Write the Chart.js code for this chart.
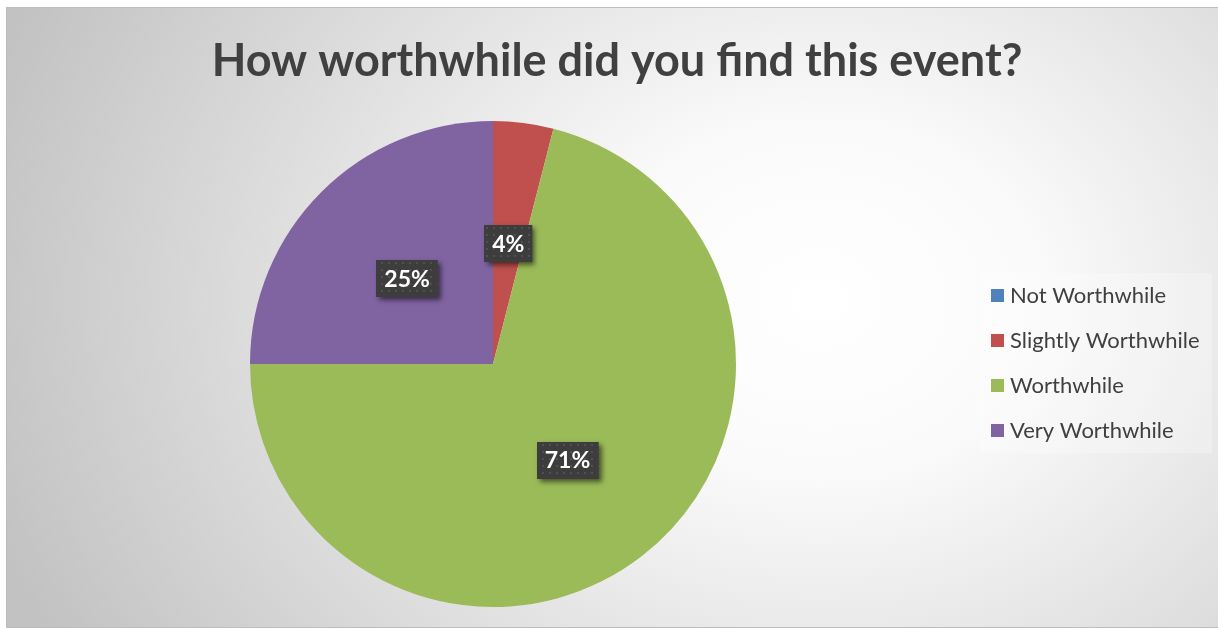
<!DOCTYPE html>
<html>
<head>
<meta charset="utf-8">
<script src="https://cdn.jsdelivr.net/npm/chart.js@4/dist/chart.umd.min.js"></script>
<style>
  html, body { margin: 0; padding: 0; background: #fff; }
  canvas { display: block; }
</style>
</head>
<body>
<canvas id="canvas" width="1218" height="629"></canvas>
<script>
const chartTitle = 'How worthwhile did you find this event?';
const answers = ['Not Worthwhile', 'Slightly Worthwhile', 'Worthwhile', 'Very Worthwhile'];
const percents = [0, 4, 71, 25];
const sliceColors = ['#4f81bd', '#c0504d', '#9bbb59', '#8064a2'];

const textColor = '#404040';

// grey frame with a soft radial fill, plus the title on top
const backdrop = {
  id: 'backdrop',
  beforeDraw(chart) {
    const ctx = chart.ctx;
    const x0 = 7, y0 = 8, x1 = 1218, y1 = 627;
    ctx.save();
    ctx.fillStyle = '#ffffff';
    ctx.fillRect(0, 0, chart.width, chart.height);
    ctx.beginPath();
    ctx.rect(x0, y0, x1 - x0, y1 - y0);
    ctx.clip();
    // stretch the gradient a bit wider than tall
    ctx.translate(820, 300);
    ctx.scale(1.25, 1);
    const g = ctx.createRadialGradient(0, 0, 0, 0, 0, 700);
    g.addColorStop(0, '#ffffff');
    g.addColorStop(0.25, '#fafafa');
    g.addColorStop(1, '#c2c2c2');
    ctx.fillStyle = g;
    ctx.fillRect(-1000, -500, 2000, 1000);
    ctx.restore();

    ctx.save();
    ctx.strokeStyle = '#bdbdbd';
    ctx.lineWidth = 1;
    ctx.strokeRect(x0 - 0.5, y0 - 0.5, x1 - x0 + 1, y1 - y0 + 1);
    ctx.fillStyle = textColor;
    ctx.font = 'bold 45px Lato';
    ctx.textAlign = 'center';
    ctx.textBaseline = 'middle';
    ctx.fillText(chartTitle, 617, 61);
    ctx.restore();
  }
};

function dotPattern(ctx) {
  const p = document.createElement('canvas');
  p.width = 7; p.height = 7;
  const pc = p.getContext('2d');
  pc.fillStyle = '#3d3d3d';
  pc.fillRect(0, 0, 7, 7);
  pc.fillStyle = '#505050';
  pc.fillRect(3, 3, 2, 2);
  return ctx.createPattern(p, 'repeat');
}

// percentage boxes in the middle of each slice, and the legend panel
const overlays = {
  id: 'overlays',
  afterDraw(chart) {
    const ctx = chart.ctx;
    const meta = chart.getDatasetMeta(0);
    const pattern = dotPattern(ctx);
    ctx.save();
    ctx.font = 'bold 23px Lato';
    ctx.textAlign = 'center';
    ctx.textBaseline = 'middle';
    meta.data.forEach((arc, i) => {
      const v = percents[i];
      if (!v) return;
      const pos = arc.tooltipPosition();
      const txt = v + '%';
      const w = ctx.measureText(txt).width + 16;
      const h = 37;
      const bx = Math.round(pos.x - w / 2), by = Math.round(pos.y - h / 2);
      ctx.save();
      ctx.shadowColor = 'rgba(0,0,0,0.55)';
      ctx.shadowBlur = 5;
      ctx.shadowOffsetX = 3;
      ctx.shadowOffsetY = 3;
      ctx.fillStyle = '#3d3d3d';
      ctx.fillRect(bx, by, w, h);
      ctx.restore();
      ctx.fillStyle = pattern;
      ctx.fillRect(bx, by, w, h);
      ctx.fillStyle = '#ffffff';
      ctx.fillText(txt, pos.x, pos.y + 1);
    });
    ctx.restore();

    // legend
    const lx = 980, ly = 273, lw = 232, lh = 180;
    ctx.save();
    ctx.fillStyle = 'rgba(255,255,255,0.25)';
    ctx.fillRect(lx, ly, lw, lh);
    ctx.font = '22px Lato';
    ctx.textBaseline = 'middle';
    ctx.textAlign = 'left';
    chart.data.labels.forEach((lab, i) => {
      const cy = 296 + i * 45;
      ctx.fillStyle = chart.data.datasets[0].backgroundColor[i];
      ctx.fillRect(991, cy - 7, 13, 13);
      ctx.fillStyle = textColor;
      ctx.fillText(lab, 1010, cy);
    });
    ctx.restore();
  }
};

new Chart(document.getElementById('canvas').getContext('2d'), {
  type: 'pie',
  data: {
    labels: answers,
    datasets: [{
      data: percents,
      backgroundColor: sliceColors,
      borderWidth: 0,
      hoverOffset: 0,
      offset: 0
    }]
  },
  options: {
    responsive: false,
    animation: false,
    events: [],
    layout: {
      padding: { left: 250, right: 482, top: 121, bottom: 22 }
    },
    plugins: {
      legend: { display: false },
      title: { display: false },
      tooltip: { enabled: false }
    }
  },
  plugins: [backdrop, overlays]
});
</script>
</body>
</html>
